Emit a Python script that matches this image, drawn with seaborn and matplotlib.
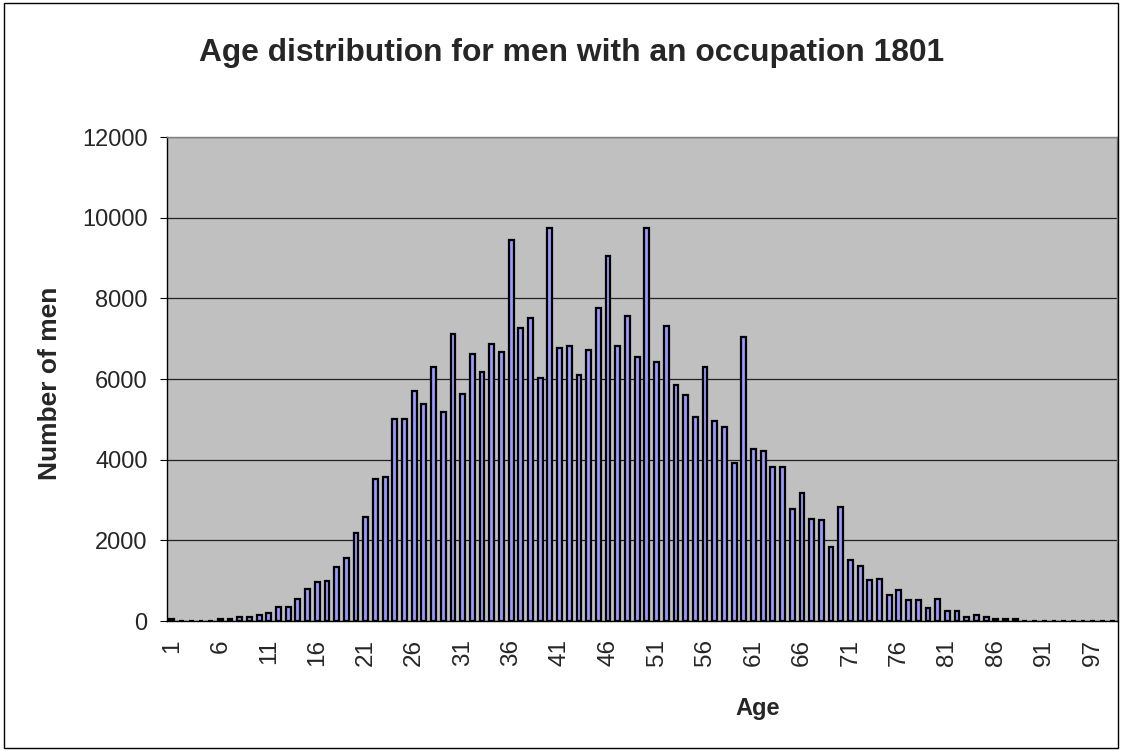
import numpy as np
import pandas as pd
import matplotlib
matplotlib.use('Agg')
import matplotlib.pyplot as plt
from matplotlib.patches import Rectangle
import seaborn as sns

# Age categories (96 is missing in the source table)
ages = list(range(1, 96)) + [97, 98, 99]

# Number of men per age
men = [50, 0, 0, 0, 0, 50, 50, 100, 100, 150,
       190, 350, 350, 550, 790, 960, 1000, 1350, 1560, 2190,
       2576, 3522, 3572, 4996, 4996, 5695, 5391, 6288, 5193, 7127,
       5638, 6625, 6181, 6880, 6675, 9440, 7267, 7514, 6024, 9736,
       6773, 6814, 6090, 6724, 7761, 9053, 6823, 7563, 6535, 9736,
       6428, 7325, 5843, 5596, 5053, 6288, 4954, 4798, 3920, 7046,
       4274, 4216, 3828, 3828, 2780, 3176, 2533, 2492, 1840, 2830,
       1502, 1353, 1006, 1048, 652, 759, 511, 511, 313, 540,
       250, 250, 90, 140, 90, 45, 45, 45, 0, 0,
       0, 0, 0, 0, 0, 0, 0, 0]

yticks = [0, 2000, 4000, 6000, 8000, 10000, 12000]

df = pd.DataFrame({'age': [str(a) for a in ages], 'men': men})

sns.set_style('white')
plt.rcParams['font.family'] = ['Liberation Sans', 'DejaVu Sans']

fig = plt.figure(figsize=(11.22, 7.51), dpi=100)
ax = fig.add_axes([167 / 1122, 1 - 621 / 751, 950 / 1122, 484 / 751])
ax.set_facecolor('#C0C0C0')

sns.barplot(data=df, x='age', y='men', order=df.age, color='#9999FF',
            saturation=1, edgecolor='black', linewidth=1.6, width=0.5, ax=ax)

ax.set_xlim(-0.5, len(ages) - 0.5)
ax.set_ylim(0, 12000)
ax.set_yticks(yticks)
ax.set_yticklabels([str(t) for t in yticks], fontsize=17)
ax.yaxis.grid(True, color='#222222', linewidth=0.9)
ax.set_axisbelow(True)

# labels every 5th category, tick marks between categories
pos = list(range(0, len(ages), 5))
ax.set_xticks(pos)
ax.set_xticklabels([str(ages[i]) for i in pos], rotation=90, fontsize=17.5)
ax.set_xticks(np.arange(-0.5, len(ages), 1), minor=True)
ax.tick_params(axis='x', which='major', length=0, pad=13)
ax.tick_params(axis='x', which='minor', length=6, width=0.8, color='black')
ax.tick_params(axis='y', length=5, width=0.8, color='black', pad=9, left=True)

for s in ['left', 'bottom']:
    ax.spines[s].set_color('black')
    ax.spines[s].set_linewidth(1)
for s in ['top', 'right']:
    ax.spines[s].set_color('#808080')
    ax.spines[s].set_linewidth(1)

ax.set_xlabel('')
ax.set_ylabel('')
fig.text(758 / 1122, 1 - 708 / 751, 'Age', fontsize=17, fontweight='bold',
         ha='center', va='center')
fig.text(50 / 1122, 1 - 383 / 751, 'Number of men', fontsize=19, fontweight='bold',
         ha='center', va='center', rotation=90)
fig.text(572 / 1122, 1 - 61 / 751, 'Age distribution for men with an occupation 1801',
         fontsize=22.9, fontweight='bold', ha='center', va='baseline')

fig.patches.append(Rectangle((4 / 1122, 3 / 751), 1114 / 1122, 745 / 751,
                             transform=fig.transFigure, fill=False,
                             edgecolor='black', linewidth=1))

fig.savefig('out.png', dpi=100)
